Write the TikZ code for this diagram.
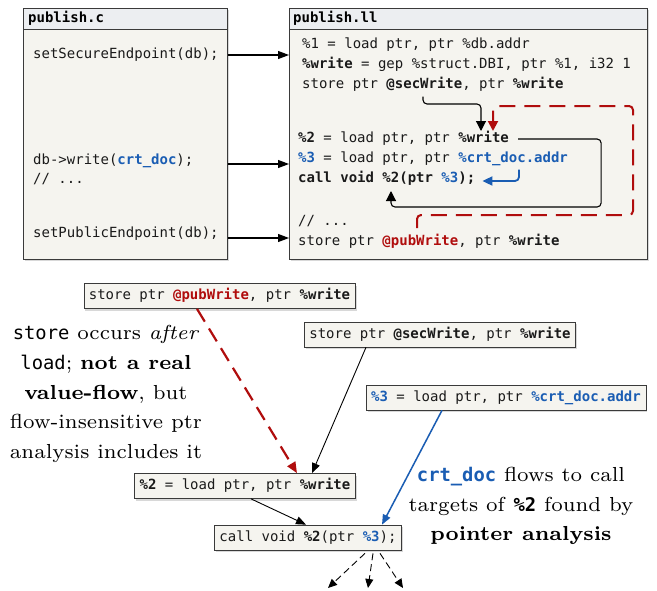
\documentclass[tikz,border=0pt]{standalone}
\usepackage{fontspec}
\setmainfont{lmroman7}[Extension=.otf,UprightFont=*-regular,BoldFont=*-bold,ItalicFont=*-italic]
\setmonofont{DejaVu Sans Mono}
\usetikzlibrary{arrows.meta,shadows,calc}

\definecolor{codebg}{HTML}{F5F4EF}
\definecolor{headbg}{HTML}{ECEEF1}
\definecolor{frame}{HTML}{3A3A3A}
\definecolor{codeink}{HTML}{1A1A1A}
\definecolor{flowred}{HTML}{B00D0D}
\definecolor{flowblue}{HTML}{1A5DB3}

% highlighted tokens inside code
\newcommand{\cred}[1]{\textcolor{flowred}{\textbf{#1}}}
\newcommand{\cblue}[1]{\textcolor{flowblue}{\textbf{#1}}}
% code words inside the prose labels
\newcommand{\lbltt}[1]{{\ttfamily\fontsize{18.8}{29.6}\selectfont #1}}

\tikzset{
  codefont/.style={font=\ttfamily\fontsize{14}{16}\selectfont, text=codeink},
  codeline/.style={codefont, anchor=west, inner sep=0pt, text height=10.5pt, text depth=3.5pt},
  filebox/.style={draw=frame, line width=0.8pt, fill=codebg, anchor=north west, inner sep=0pt,
    drop shadow={shadow xshift=2pt, shadow yshift=-2pt, opacity=0.3}},
  filehead/.style={draw=frame, line width=0.8pt, fill=headbg, anchor=north west, inner sep=0pt},
  headtext/.style={anchor=west, inner sep=0pt, font=\ttfamily\bfseries\fontsize{14}{16}\selectfont},
  irbox/.style={codefont, draw=frame, line width=0.7pt, fill=codebg, inner xsep=5pt, inner ysep=0pt,
    minimum height=25pt, text height=10.5pt, text depth=3.5pt,
    drop shadow={shadow xshift=1.5pt, shadow yshift=-2pt, opacity=0.3}},
  prose/.style={align=center, inner sep=0pt, font=\fontsize{20.3}{29.6}\selectfont},
  callarrow/.style={-{Triangle[length=11pt,width=8pt]}, line width=1.1pt},
  loopflow/.style={-{Triangle[length=10pt,width=10pt]}, line width=1.1pt, rounded corners=4pt},
  redflow/.style={-{Triangle[length=10pt,width=10pt]}, flowred, line width=2pt, dash pattern=on 16pt off 9pt, rounded corners=4pt},
  blueflow/.style={-{Triangle[length=10pt,width=9pt]}, flowblue, line width=1.8pt, rounded corners=4pt},
  edge/.style={-{Triangle[length=10pt,width=8pt]}, line width=0.9pt},
  rededge/.style={-{Triangle[length=11pt,width=9pt]}, flowred, line width=2.2pt, dash pattern=on 15pt off 8pt},
  blueedge/.style={-{Triangle[length=10pt,width=8pt]}, flowblue, line width=1.5pt},
  fanout/.style={-{Triangle[length=9pt,width=8pt]}, line width=0.9pt, dash pattern=on 7pt off 4pt},
}

\begin{document}
\begin{tikzpicture}[x=1pt,y=-1pt]
\fill[white] (0,0) rectangle (657,590);
\useasboundingbox (0,0) rectangle (657,590);

% ---------- source file ----------
\node[filebox, minimum width=204pt, minimum height=251pt] (cfile) at (23,8) {};
\node[filehead, minimum width=204pt, minimum height=21pt] (chead) at (cfile.north west) {};
\node[headtext] (ctitle) at (28,18.5) {publish.c};
\node[codeline] (c1) at (33,55) {setSecureEndpoint(db);};
\node[codeline] (c2) at (33,160.5) {db->write(\cblue{crt\_doc});};
\node[codeline] (c3) at (33,180) {// ...};
\node[codeline] (c4) at (33,233.5) {setPublicEndpoint(db);};

% ---------- LLVM IR file ----------
\node[filebox, minimum width=358pt, minimum height=251pt] (llfile) at (289,8) {};
\node[filehead, minimum width=358pt, minimum height=21pt] (llhead) at (llfile.north west) {};
\node[headtext] (lltitle) at (293,18.5) {publish.ll};
\node[codeline] (l1) at (302,44.5) {\%1 = load ptr, ptr \%db.addr};
\node[codeline] (l2) at (302,64.5) {\textbf{\%write} = gep \%struct.DBI, ptr \%1, i32 1};
\node[codeline] (l3) at (302,84.5) {store ptr \textbf{@secWrite}, ptr \textbf{\%write}};
\node[codeline] (l4) at (298,139) {\textbf{\%2} = load ptr, ptr \textbf{\%write}};
\node[codeline] (l5) at (298,159) {\cblue{\%3} = load ptr, ptr \cblue{\%crt\_doc.addr}};
\node[codeline] (l6) at (298,179) {\textbf{call void \%2(ptr \cblue{\%3});}};
\node[codeline] (l7) at (298,222) {// ...};
\node[codeline] (l8) at (298,241.5) {store ptr \cred{@pubWrite}, ptr \textbf{\%write}};

% calls from the source lines into the IR
\coordinate (a2) at ([yshift=-3.5pt]c2.west);
\coordinate (a3) at ([yshift=-4.5pt]c4.west);
\draw[callarrow] (cfile.east |- c1) -- (llfile.west |- c1);
\draw[callarrow] (cfile.east |- a2) -- (llfile.west |- a2);
\draw[callarrow] (cfile.east |- a3) -- (llfile.west |- a3);

% value flows inside the IR
\coordinate (secTok) at (423,96.5);
\coordinate (wSec) at (481,131);
\coordinate (pubTok) at (417,228);
\coordinate (wPub) at (493,131);
\coordinate (calleeTip) at (391,191);
\coordinate (docTok) at (519,169.5);
\draw[loopflow] (secTok) -- ++(0,7.5) -| (wSec);
\draw[redflow] (pubTok) -- ++(0,-13) -- ++(216,0) -- ++(0,-109) -| (wPub);
\draw[loopflow] ([xshift=9pt]l4.east) -- ++(83,0) -- ++(0,68) -| (calleeTip);
\draw[blueflow] (docTok) |- ($(l6.east)+(7,2)$);

% ---------- value-flow graph ----------
\node[irbox] (pub) at (219.5,296) {store ptr \cred{@pubWrite}, ptr \textbf{\%write}};
\node[irbox] (sec) at (440,334.5) {store ptr \textbf{@secWrite}, ptr \textbf{\%write}};
\node[irbox] (three) at (506,397.5) {\cblue{\%3} = load ptr, ptr \cblue{\%crt\_doc.addr}};
\node[irbox] (two) at (245,486) {\textbf{\%2} = load ptr, ptr \textbf{\%write}};
\node[irbox] (call) at (308,537.5) {call void \textbf{\%2}(ptr \cblue{\%3});};

\draw[rededge] ([xshift=-22.5pt]pub.south) -- ([xshift=52pt]two.north);
\draw[edge] ([xshift=-74pt]sec.south) -- ([xshift=67pt]two.north);
\draw[blueedge] ([xshift=-64pt]three.south) -- ([xshift=74pt]call.north);
\draw[edge] ([xshift=6pt]two.south) -- ([xshift=-2pt]call.north);

\coordinate (t1) at (328,588);
\coordinate (t2) at (368,588);
\coordinate (t3) at (403,588);
\draw[fanout] ([xshift=57pt,yshift=-3pt]call.south) -- (t1);
\draw[fanout] ([xshift=65pt,yshift=-3pt]call.south) -- (t2);
\draw[fanout] ([xshift=72pt,yshift=-3pt]call.south) -- (t3);

% ---------- annotations ----------
\node[prose] (why) at (106,394) {\lbltt{store} occurs \textit{after}\\
  \lbltt{load}; \textbf{not a real}\\
  \textbf{value-flow}, but\\
  flow-insensitive ptr\\
  analysis includes it};
\node[prose] (how) at (521,506) {\lbltt{\cblue{crt\_doc}} flows to call\\
  targets of \lbltt{\textbf{\%2}} found by\\
  \textbf{pointer analysis}};
\end{tikzpicture}
\end{document}
